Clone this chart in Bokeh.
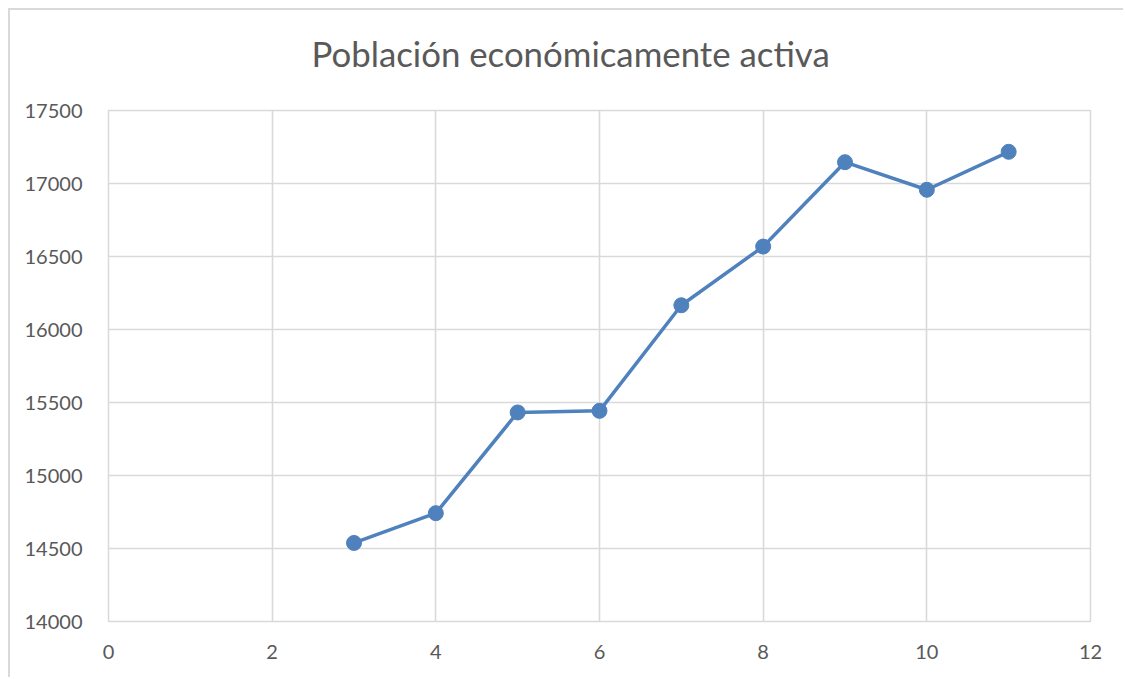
from bokeh.plotting import figure
from bokeh.models import FixedTicker, Range1d, Title
from bokeh.embed import file_html
from bokeh.resources import INLINE

# Data
x_vals = [3, 4, 5, 6, 7, 8, 9, 10, 11]
pea = [14538, 14742, 15432, 15443, 16166, 16568, 17146, 16957, 17217]
x_ticks = [0, 2, 4, 6, 8, 10, 12]
y_ticks = [14000, 14500, 15000, 15500, 16000, 16500, 17000, 17500]
title_text = "Población económicamente activa"

FONT = "Lato"
TXT = "#595959"
GRID = "#d9d9d9"
BLUE = "#4f81bd"

p = figure(width=1115, height=669, output_backend="svg", toolbar_location=None,
           x_range=Range1d(0, 12), y_range=Range1d(14000, 17500),
           min_border_left=98, min_border_right=35, min_border_top=100, min_border_bottom=58,
           title=None)
p.styles = {"margin-left": "8px", "margin-top": "8px",
            "border-left": "2px solid #d9d9d9", "border-top": "2px solid #d9d9d9"}

# blank spacer between the plot area and the title (closest to the frame)
p.add_layout(Title(text=" ", text_font=FONT, text_font_size="10px", standoff=23), "above")
t = Title(text=title_text, align="left", offset=203, vertical_align="bottom",
          text_font=FONT, text_font_size="34.8px",
          text_font_style="normal", text_color=TXT, standoff=0)
p.add_layout(t, "above")

p.background_fill_color = "white"
p.border_fill_color = "white"
p.outline_line_color = GRID
p.outline_line_width = 1.5

for ax in (p.xaxis, p.yaxis):
    ax.axis_line_color = None
    ax.major_tick_line_color = None
    ax.minor_tick_line_color = None
    ax.major_label_text_font = FONT
    ax.major_label_text_font_size = "20px"
    ax.major_label_text_color = TXT

p.xaxis.ticker = FixedTicker(ticks=x_ticks)
p.yaxis.ticker = FixedTicker(ticks=y_ticks)
p.xaxis.major_label_standoff = 17
p.yaxis.major_label_standoff = 20

p.xgrid.ticker = FixedTicker(ticks=x_ticks)
p.ygrid.ticker = FixedTicker(ticks=y_ticks)
p.grid.grid_line_color = GRID
p.grid.grid_line_width = 1.6

p.line(x_vals, pea, line_color=BLUE, line_width=3.5)
p.scatter(x_vals, pea, size=15, fill_color=BLUE, line_color=BLUE)

open("out.html", "w").write(file_html(p, INLINE))
